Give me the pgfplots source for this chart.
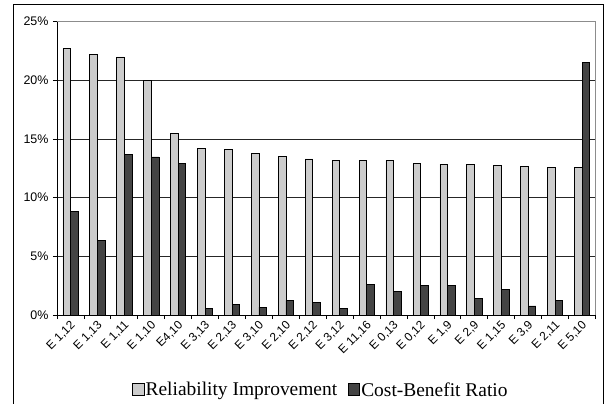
\documentclass[border=0pt]{standalone}
\usepackage{fontspec}
\setmainfont{Liberation Serif}
\newfontfamily\sansf{Liberation Sans}
\usepackage{pgfplots}
\pgfplotsset{compat=1.18}
\definecolor{lightbar}{HTML}{CCCCCC}
\definecolor{darkbar}{HTML}{444444}
\begin{document}
\begin{tikzpicture}
\useasboundingbox (0,0) rectangle (612bp,404bp);
\draw[black, line width=1.3bp] (13.5bp,-2bp) -- (13.5bp,399.5bp) -- (603.5bp,399.5bp) -- (603.5bp,-2bp);
\begin{axis}[
  at={(57bp,89bp)}, anchor=south west,
  scale only axis, width=538.5bp, height=293.3bp,
  xmin=0.5, xmax=20.5, ymin=0, ymax=25,
  axis lines*=left,
  axis line style={black, line width=0.8bp},
  ytick={0,5,10,15,20,25},
  yticklabel={\pgfmathprintnumber{\tick}\%},
  xtick={1,...,20},
  xticklabels={{E 1,12}, {E 1,13}, {E 1,11}, {E 1,10}, {E4,10}, {E 3,13}, {E 2,13}, {E 3,10}, {E 2,10}, {E 2,12}, {E 3,12}, {E 11,16}, {E 0,13}, {E 0,12}, {E 1,9}, {E 2,9}, {E 1,15}, {E 3,9}, {E 2,11}, {E 5,10}},
  minor xtick={0.5,1.5,...,20.5},
  major x tick style={draw=none},
  minor tick length=4bp,
  major tick length=4bp,
  tick align=outside,
  tick style={black, line width=0.8bp},
  ymajorgrids,
  grid style={black!85, line width=0.8bp},
  /pgf/number format/assume math mode=true,
  ticklabel style={font=\sansf\fontsize{12}{12}\selectfont},
  yticklabel style={font=\sansf\fontsize{12.5}{12.5}\selectfont, xshift=-1bp},
  xticklabel style={rotate=45, anchor=east, inner sep=0pt, xshift=-1bp, yshift=-5bp},
  legend columns=2,
  legend style={at={(axis description cs:0.139,-0.2557)}, anchor=west, draw=none, fill=none,
    inner sep=0pt, font=\fontsize{19.5}{20}\selectfont,
    /tikz/every even column/.append style={column sep=9bp},
    nodes={inner sep=1.5bp}},
  legend image code/.code={\draw[#1, line width=0.6bp] (0bp,-5bp) rectangle (11.5bp,6.5bp);},
  clip=false,
]
\addplot[ybar, bar width=7.6bp, bar shift=-3.8bp, fill=lightbar, draw=black, line width=0.6bp] coordinates {
(1,22.7) (2,22.2) (3,22.0) (4,20.0) (5,15.45) (6,14.2) (7,14.1) (8,13.75) (9,13.55) (10,13.3)
(11,13.21) (12,13.18) (13,13.18) (14,12.9) (15,12.87) (16,12.87) (17,12.76) (18,12.67) (19,12.61) (20,12.56)};
\addlegendentry{Reliability Improvement}
\addplot[ybar, bar width=7.6bp, bar shift=3.8bp, fill=darkbar, draw=black, line width=0.6bp] coordinates {
(1,8.85) (2,6.36) (3,13.69) (4,13.47) (5,12.9) (6,0.55) (7,0.9) (8,0.68) (9,1.25) (10,1.05)
(11,0.54) (12,2.61) (13,1.99) (14,2.5) (15,2.5) (16,1.39) (17,2.16) (18,0.77) (19,1.25) (20,21.56)};
\addlegendentry{Cost-Benefit Ratio}
\draw[black!45, line width=0.8bp] (rel axis cs:0,1) -- (rel axis cs:1,1) -- (rel axis cs:1,0);
\end{axis}
\end{tikzpicture}
\end{document}
